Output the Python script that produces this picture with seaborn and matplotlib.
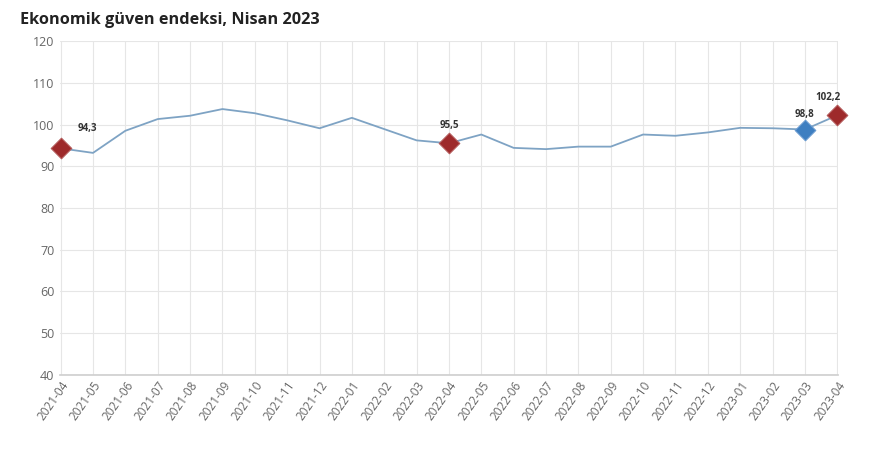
import pandas as pd
import seaborn as sns
import matplotlib.pyplot as plt

months = ["2021-04", "2021-05", "2021-06", "2021-07", "2021-08", "2021-09",
          "2021-10", "2021-11", "2021-12", "2022-01", "2022-02", "2022-03",
          "2022-04", "2022-05", "2022-06", "2022-07", "2022-08", "2022-09",
          "2022-10", "2022-11", "2022-12", "2023-01", "2023-02", "2023-03",
          "2023-04"]
index_values = [94.3, 93.2, 98.5, 101.3, 102.1, 103.7, 102.7, 101.0, 99.1,
                101.6, 98.9, 96.2, 95.5, 97.6, 94.4, 94.1, 94.7, 94.7, 97.6,
                97.3, 98.1, 99.2, 99.1, 98.8, 102.2]
red_points = ["2021-04", "2022-04", "2023-04"]
blue_points = ["2023-03"]
label_texts = {"2021-04": "94,3", "2022-04": "95,5", "2023-03": "98,8", "2023-04": "102,2"}

df = pd.DataFrame({"ay": months, "endeks": index_values})

sns.set_theme(style="whitegrid")
plt.rcParams["font.family"] = ["Open Sans", "DejaVu Sans"]

fig = plt.figure(figsize=(8.76, 4.66), dpi=100)
ax = fig.add_axes([0.0685, 0.1953, 0.888, 0.7167])

sns.lineplot(data=df, x="ay", y="endeks", color="#7ea3c4", linewidth=1.3, ax=ax)
for pts, face, edge in [(red_points, "#9e2a2b", "#b35a5a"), (blue_points, "#3e7fc1", "#6a9bd0")]:
    sns.scatterplot(data=df[df["ay"].isin(pts)], x="ay", y="endeks",
                    marker="D", s=110, color=face, edgecolor=edge,
                    linewidth=0.8, zorder=5, clip_on=False, ax=ax)

offsets = {"2021-04": (12, 10), "2022-04": (0, 9), "2023-03": (0, 7), "2023-04": (-7, 9)}
for m, txt in label_texts.items():
    i = months.index(m)
    dx, dy = offsets[m]
    ha = "left" if dx > 0 else "center"
    ax.annotate(txt, (i, index_values[i]), xytext=(dx, dy), textcoords="offset points",
                ha=ha, va="bottom", fontsize=7, fontweight="bold", color="#333333")

ax.set_ylim(40, 120)
ax.set_yticks(range(40, 121, 10))
ax.set_xlim(-0.02, len(months) - 1 + 0.02)
ax.set_xlabel("")
ax.set_ylabel("")
ax.tick_params(axis="y", labelsize=9, colors="#666666", pad=4, length=0)
ax.tick_params(axis="x", labelsize=8.5, colors="#666666", length=0, pad=3)
plt.setp(ax.get_xticklabels(), rotation=55, ha="right", rotation_mode="anchor")
ax.grid(True, color="#e6e6e6", linewidth=0.8)
for s in ["top", "right", "left"]:
    ax.spines[s].set_visible(False)
ax.spines["bottom"].set_color("#d0d0d0")

fig.text(0.023, 0.957, "Ekonomik güven endeksi, Nisan 2023", fontsize=11.7,
         fontweight="bold", color="#222222", ha="left", va="center")

fig.savefig("out.png", dpi=100)
